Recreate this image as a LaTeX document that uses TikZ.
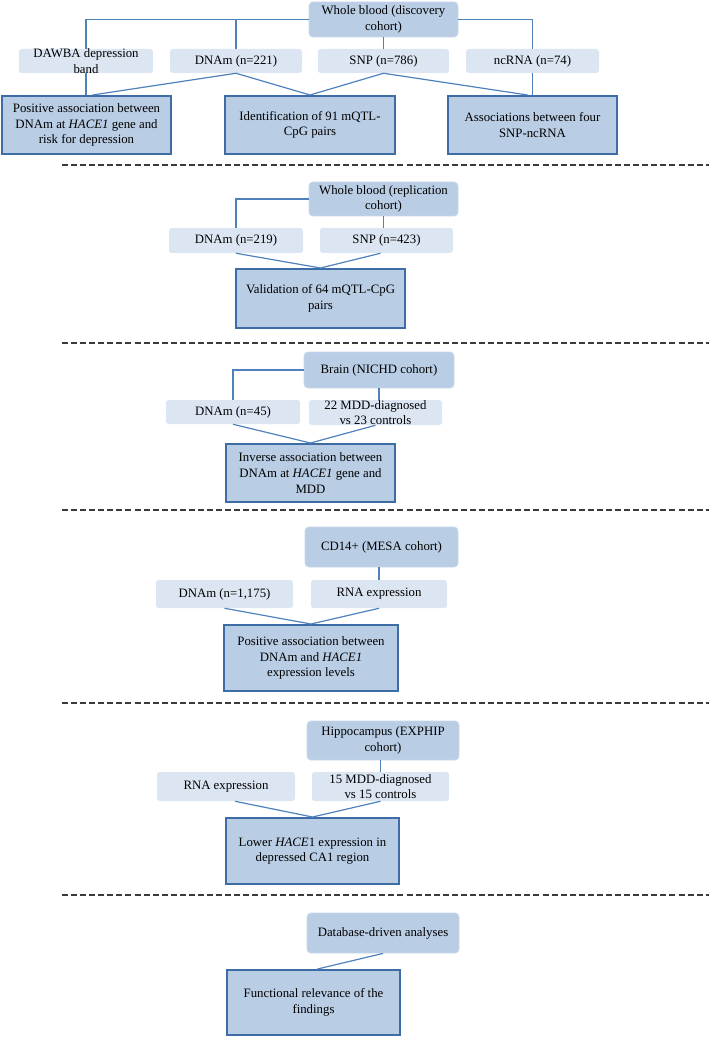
\documentclass[tikz,border=0pt]{standalone}
\usepackage{fontspec}
\setmainfont{Liberation Serif}
\usepackage{xcolor}
\definecolor{linkBlue}{HTML}{4F81BD}
\definecolor{resultEdge}{HTML}{3E6DA6}
\definecolor{boxMid}{HTML}{B9CDE5}
\definecolor{boxLight}{HTML}{DCE6F2}
\definecolor{headEdge}{HTML}{C8D7EB}
\definecolor{sepGray}{HTML}{3A3A3A}
\usepackage{tikz}
\usetikzlibrary{positioning,calc}
\tikzset{%
  boxSize/.style 2 args={%
    minimum width=#1*0.75pt,
    minimum height=#2*0.75pt
  },
  cohortBox/.style={%
    rectangle,
    rounded corners=3pt,
    draw=headEdge,
    line width=0.6pt,
    fill=boxMid,
    inner sep=0pt,
    align=center,
    font=\fontsize{9.6}{11.7}\selectfont
  },
  dataBox/.style={%
    rectangle,
    rounded corners=2pt,
    fill=boxLight,
    inner sep=0pt,
    align=center,
    font=\fontsize{9.6}{11.7}\selectfont
  },
  resultBox/.style={%
    rectangle,
    draw=resultEdge,
    line width=1.5pt,
    fill=boxMid,
    inner sep=0pt,
    align=center,
    font=\fontsize{9.6}{11.7}\selectfont
  },
  linkLine/.style={%
    draw=linkBlue,
    line width=0.9pt
  },
  sepLine/.style={%
    draw=sepGray,
    line width=1.5pt,
    dash pattern=on 4.5pt off 2.3pt
  }
}

\begin{document}
\begin{tikzpicture}[x=0.75pt,y=-0.75pt]
            \useasboundingbox (0,0) rectangle (709,1037);

            \node[cohortBox, boxSize={149}{35}] (disc) at (383.5,19.5) {Whole blood (discovery\\cohort)};
            \node[dataBox, boxSize={134}{24}, inner ysep=-2pt] (dawba) at (86,61) {DAWBA depression\\band};
            \node[dataBox, boxSize={132}{24}] (dnam1) at (236,61) {DNAm (n=221)};
            \node[dataBox, boxSize={131}{24}] (snp1) at (383.5,61) {SNP (n=786)};
            \node[dataBox, boxSize={133}{24}] (ncrna) at (532.5,61) {ncRNA (n=74)};
            \node[resultBox, boxSize={169}{58}] (pos1) at (86.5,125) {Positive association between\\DNAm at \textit{HACE1} gene and\\risk for depression};
            \node[resultBox, boxSize={170}{58}] (ident) at (310,125) {Identification of 91 mQTL-\\CpG pairs};
            \node[resultBox, boxSize={169}{58}] (assoc) at (532.5,125) {Associations between four\\SNP-ncRNA};

            \draw[linkLine] (disc.west) -| (dawba.north);
            \draw[linkLine] (disc.east) -| (ncrna.north);
            \draw[linkLine] (dnam1.north) -- (dnam1.north |- disc.west);
            \draw[linkLine] (disc.south) -- (snp1.north);
            \draw[linkLine] (dawba.south) -- (dawba.south |- pos1.north);
            \draw[linkLine] ($(pos1.north)+(6,0)$) -- (dnam1.south) -- (ident.north) -- (snp1.south) -- ($(assoc.north)+(-5,0)$);
            \draw[linkLine] (ncrna.south) -- (assoc.north);

            \node[cohortBox, boxSize={149}{34}] (repl) at (383.5,199) {Whole blood (replication\\cohort)};
            \node[dataBox, boxSize={134}{25}] (dnam2) at (236,240.5) {DNAm (n=219)};
            \node[dataBox, boxSize={133}{25}] (snp2) at (386.5,240.5) {SNP (n=423)};
            \node[resultBox, boxSize={169}{59}] (valid) at (320.5,298.5) {Validation of 64 mQTL-CpG\\pairs};

            \draw[linkLine] (repl.west) -| (dnam2.north);
            \draw[linkLine] (repl.south) -- (repl.south |- snp2.north);
            \draw[linkLine] (dnam2.south) -- (valid.north) -- ($(snp2.south)+(-6,0)$);

            \node[cohortBox, boxSize={150}{36}] (brain) at (379,370) {Brain (NICHD cohort)};
            \node[dataBox, boxSize={134}{24}] (dnam3) at (233,412) {DNAm (n=45)};
            \node[dataBox, boxSize={133}{25}, inner ysep=-1.5pt] (mdd22) at (375.5,412.5) {22 MDD-diagnosed\\vs 23 controls};
            \node[resultBox, boxSize={169}{58}] (inv) at (310.5,473) {Inverse association between\\DNAm at \textit{HACE1} gene and\\MDD};

            \draw[linkLine] (brain.west) -| (dnam3.north);
            \draw[linkLine] (brain.south) -- (brain.south |- mdd22.north);
            \draw[linkLine] (dnam3.south) -- (inv.north) -- (mdd22.south);

            \node[cohortBox, boxSize={153}{40}] (cd14) at (381.5,547) {CD14+ (MESA cohort)};
            \node[dataBox, boxSize={137}{28}] (dnam4) at (224.5,594) {DNAm (n=1,175)};
            \node[dataBox, boxSize={136}{28}] (rna4) at (379,594) {RNA expression};
            \node[resultBox, boxSize={174}{66}] (pos4) at (311,658) {Positive association between\\DNAm and \textit{HACE1}\\expression levels};

            \draw[linkLine] (rna4.north) -- (rna4.north |- cd14.south);
            \draw[linkLine] (dnam4.south) -- (pos4.north) -- (rna4.south);

            \node[cohortBox, boxSize={152}{39}] (hippo) at (383,740.5) {Hippocampus (EXPHIP\\cohort)};
            \node[dataBox, boxSize={138}{29}] (rna5) at (226,786.5) {RNA expression};
            \node[dataBox, boxSize={137}{29}] (mdd15) at (380.5,786.5) {15 MDD-diagnosed\\vs 15 controls};
            \node[resultBox, boxSize={173}{66}] (lower) at (312.5,851) {Lower \textit{HACE}1 expression in\\depressed CA1 region};

            \draw[linkLine] (mdd15.north) -- (mdd15.north |- hippo.south);
            \draw[linkLine] ($(rna5.south)+(9,0)$) -- (lower.north) -- (mdd15.south);

            \node[cohortBox, boxSize={152}{40}] (dbase) at (383,933) {Database-driven analyses};
            \node[resultBox, boxSize={173}{65}] (func) at (313.5,1002.5) {Functional relevance of the\\findings};

            \draw[linkLine] (dbase.south) -- ($(func.north)+(4,0)$);

            \foreach \yy in {165,343,510,703,895}
              \draw[sepLine] (62,\yy) -- (709,\yy);
        \end{tikzpicture}
\end{document}
